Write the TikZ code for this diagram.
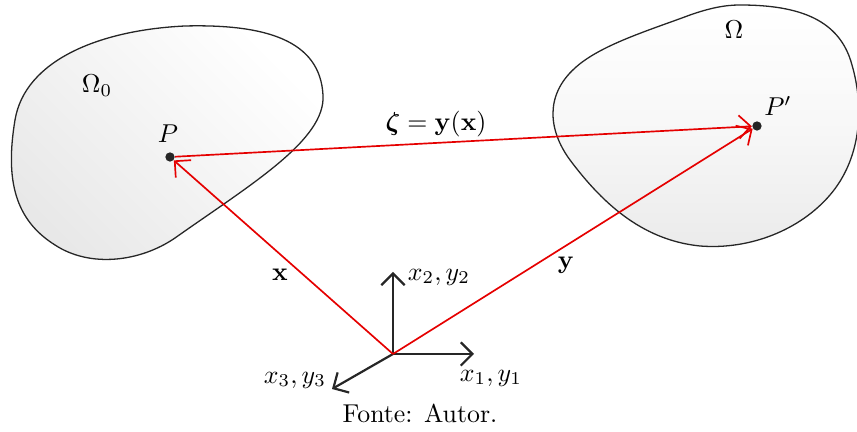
\documentclass[tikz,border=0pt]{standalone}
\usepackage{amsmath,bm}
\usetikzlibrary{arrows.meta}
\begin{document}
\begin{tikzpicture}[x=0.3874pt,y=-0.3874pt,
  blob/.style={draw=black!85,line width=0.5pt},
  vec/.style={draw=red!90!black,line width=0.65pt,-{Straight Barb[length=4.5pt,width=9pt,line width=0.65pt]}},
  axis/.style={draw=black!85,line width=0.85pt,-{Straight Barb[length=4.5pt,width=9pt,line width=0.85pt]}},
  dot/.style={circle,fill=black!85,inner sep=0pt,minimum size=3.6pt},
  lbl/.style={inner sep=1pt}]
\useasboundingbox (0,0) rectangle (857,432);
% left blob
\shade[blob,top color=white,bottom color=black!9,shading angle=-45]
  (185,26) .. controls (265,24) and (320,40) .. (323,95)
  .. controls (326,140) and (250,185) .. (175,238)
  .. controls (140,262) and (90,268) .. (55,245)
  .. controls (15,220) and (5,180) .. (15,120)
  .. controls (25,60) and (100,30) .. (185,26) -- cycle;
% right blob
\shade[blob,top color=white,bottom color=black!8,middle color=white!97!black]
  (740,5) .. controls (800,5) and (840,20) .. (852,65)
  .. controls (865,110) and (860,160) .. (830,195)
  .. controls (800,230) and (750,250) .. (700,246)
  .. controls (640,240) and (600,200) .. (570,160)
  .. controls (548,130) and (545,95) .. (575,68)
  .. controls (600,45) and (650,30) .. (690,15)
  .. controls (710,8) and (725,5) .. (740,5) -- cycle;
% points
\node[dot] (P) at (170,157) {};
\node[dot] (Pp) at (757,126) {};
\coordinate (O) at (393,354);
\coordinate (X1) at (474,354);
\coordinate (X2) at (393,272);
\coordinate (X3) at (332,389);
% axes
\draw[axis] (O) -- (X1);
\draw[axis] (O) -- (X2);
\draw[axis] (O) -- (X3);
% vectors
\draw[vec] (O) -- (P);
\draw[vec] (O) -- (Pp);
\draw[vec] (P) -- (Pp);
% labels
\node[lbl] (lO0) at (97,86) {$\Omega_0$};
\node[lbl] (lO) at (734,30) {$\Omega$};
\node[lbl] (lP) at (168,134) {$P$};
\node[lbl] (lPp) at (778,106) {$P'$};
\node[lbl] (lz) at (436,124) {$\bm{\zeta}=\mathbf{y}(\mathbf{x})$};
\node[lbl] (lx) at (280,275) {$\mathbf{x}$};
\node[lbl] (ly) at (566,265) {$\mathbf{y}$};
\node[lbl] (l2) at (439,277) {$x_2,y_2$};
\node[lbl] (l1) at (491,378) {$x_1,y_1$};
\node[lbl] (l3) at (295,380) {$x_3,y_3$};
\node[lbl] (src) at (420,413) {Fonte: Autor.};
\end{tikzpicture}
\end{document}
